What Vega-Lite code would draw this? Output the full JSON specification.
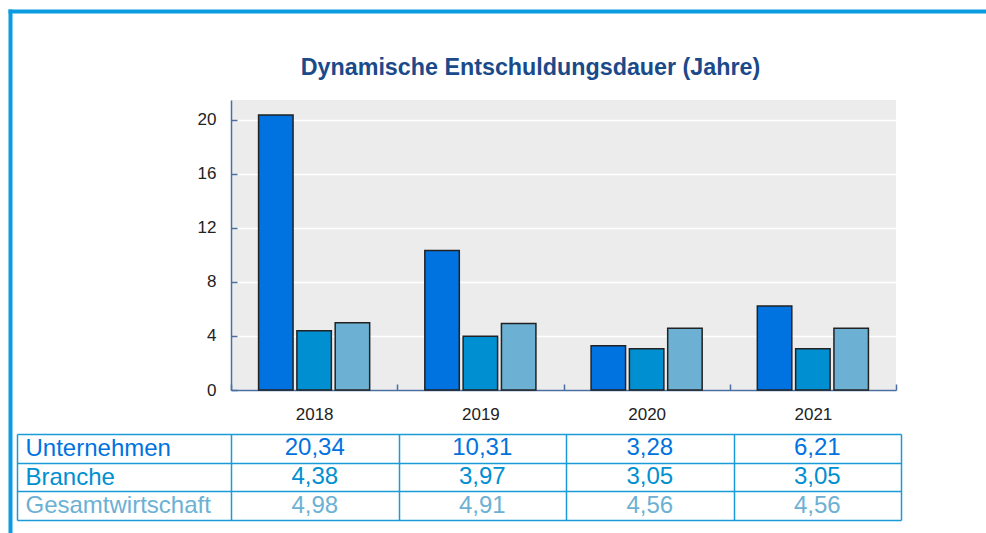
{
  "$schema": "https://vega.github.io/schema/vega-lite/v6.json",
  "width": 665,
  "height": 290,
  "autosize": {"type": "none"},
  "padding": {"left": 231, "top": 100, "right": 90, "bottom": 143},
  "background": "white",
  "title": {
    "text": "Dynamische Entschuldungsdauer (Jahre)",
    "font": "Liberation Sans",
    "fontSize": 23.3,
    "fontWeight": "bold",
    "color": "#1a4a8a",
    "anchor": "middle",
    "dx": -33,
    "dy": 88,
    "offset": 16
  },
  "config": {
    "view": {"fill": "#ececec", "stroke": null},
    "locale": {"number": {"decimal": ",", "thousands": ".", "grouping": [3], "currency": ["", " €"]}}
  },
  "data": {
    "values": [
      {"year": "2018", "series": "Unternehmen", "value": 20.34},
      {"year": "2018", "series": "Branche", "value": 4.38},
      {"year": "2018", "series": "Gesamtwirtschaft", "value": 4.98},
      {"year": "2019", "series": "Unternehmen", "value": 10.31},
      {"year": "2019", "series": "Branche", "value": 3.97},
      {"year": "2019", "series": "Gesamtwirtschaft", "value": 4.91},
      {"year": "2020", "series": "Unternehmen", "value": 3.28},
      {"year": "2020", "series": "Branche", "value": 3.05},
      {"year": "2020", "series": "Gesamtwirtschaft", "value": 4.56},
      {"year": "2021", "series": "Unternehmen", "value": 6.21},
      {"year": "2021", "series": "Branche", "value": 3.05},
      {"year": "2021", "series": "Gesamtwirtschaft", "value": 4.56}
    ]
  },
  "layer": [
    {
      "mark": {"type": "bar", "stroke": "#222222", "strokeWidth": 1.5},
      "encoding": {
        "x": {
          "field": "year", "type": "nominal",
          "scale": {"paddingInner": 0, "paddingOuter": 0},
          "axis": {
            "orient": "bottom", "title": null, "labelAngle": 0,
            "tickBand": "extent", "tickSize": -6, "tickColor": "#4a6fa0", "tickWidth": 1.5,
            "domainColor": "#4a6fa0", "domainWidth": 1.5,
            "labelFont": "Liberation Sans", "labelFontSize": 17, "labelColor": "#222222",
            "labelPadding": 22, "grid": false
          }
        },
        "xOffset": {
          "field": "series", "type": "nominal",
          "scale": {"domain": ["Unternehmen", "Branche", "Gesamtwirtschaft"], "paddingInner": 0.1, "paddingOuter": 0.72}
        },
        "y": {
          "field": "value", "type": "quantitative",
          "scale": {"domain": [0, 21.45], "nice": false},
          "axis": {
            "orient": "left", "title": null, "values": [0, 4, 8, 12, 16, 20],
            "grid": true, "gridColor": "white", "gridWidth": 1.5,
            "tickSize": -6, "tickColor": "#4a6fa0", "tickWidth": 1.5,
            "domainColor": "#4a6fa0", "domainWidth": 1.5,
            "labelFont": "Liberation Sans", "labelFontSize": 17, "labelColor": "#222222",
            "labelPadding": 21
          }
        },
        "color": {
          "field": "series", "type": "nominal",
          "scale": {"domain": ["Unternehmen", "Branche", "Gesamtwirtschaft"], "range": ["#0073e0", "#008fd1", "#6cb1d4"]},
          "legend": null
        }
      }
    },
    {
      "mark": {"type": "text", "font": "Liberation Sans", "fontSize": 24},
      "encoding": {
        "x": {
          "field": "year", "type": "nominal",
          "scale": {"range": [0, 670], "paddingInner": 0, "paddingOuter": 0},
          "axis": {
            "orient": "bottom", "offset": 130, "title": null, "labels": false, "domain": false, "grid": false,
            "tickBand": "extent", "tickSize": -86, "tickColor": "#1a9bd7", "tickWidth": 1.5
          }
        },
        "y": {
          "field": "series", "type": "nominal",
          "scale": {"domain": ["Unternehmen", "Branche", "Gesamtwirtschaft"], "range": [334, 420], "paddingInner": 0, "paddingOuter": 0},
          "axis": {
            "orient": "left", "offset": 214, "title": null, "grid": false,
            "domainColor": "#1a9bd7", "domainWidth": 1.5,
            "tickBand": "extent", "tickSize": -884, "tickColor": "#1a9bd7", "tickWidth": 1.5,
            "labelAlign": "left", "labelBaseline": "middle", "labelPadding": 876, "labelLimit": 0,
            "labelFont": "Liberation Sans", "labelFontSize": 24,
            "labelColor": {
              "condition": [
                {"test": "datum.value === 'Unternehmen'", "value": "#0073e0"},
                {"test": "datum.value === 'Branche'", "value": "#008fd1"}
              ],
              "value": "#6cb1d4"
            }
          }
        },
        "text": {"field": "value", "type": "quantitative", "format": ".2f"},
        "color": {"field": "series", "type": "nominal", "legend": null}
      }
    },
    {
      "mark": {"type": "point", "opacity": 0},
      "encoding": {
        "x": {
          "datum": 0, "type": "quantitative",
          "scale": {"domain": [0, 1], "range": [-221, 755]},
          "axis": {"orient": "bottom", "offset": -379, "title": null, "labels": false, "ticks": false, "grid": false,
                   "domainColor": "#0a9be0", "domainWidth": 4, "domainCap": "square"}
        },
        "y": {
          "datum": 0, "type": "quantitative",
          "scale": {"domain": [0, 1], "range": [-89, 433]},
          "axis": {"orient": "left", "offset": 221, "title": null, "labels": false, "ticks": false, "grid": false,
                   "domainColor": "#0a9be0", "domainWidth": 4, "domainCap": "square"}
        }
      }
    }
  ],
  "resolve": {
    "scale": {"x": "independent", "y": "independent"},
    "axis": {"x": "independent", "y": "independent"}
  }
}
